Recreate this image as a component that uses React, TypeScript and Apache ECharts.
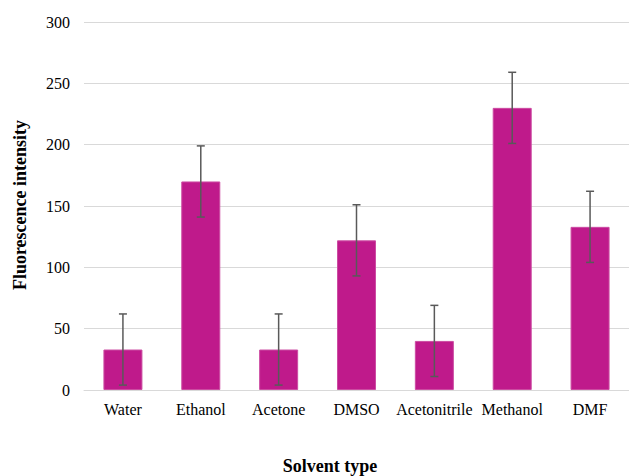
import React, { useEffect, useRef } from "react";
import * as echarts from "echarts";

const categories = ["Water", "Ethanol", "Acetone", "DMSO", "Acetonitrile", "Methanol", "DMF"];
const values = [33, 170, 33, 122, 40, 230, 133];
const errors = [29, 29, 29, 29, 29, 29, 29];
const yTicks = [0, 50, 100, 150, 200, 250, 300];

const FONT = "Liberation Serif";

export default function App() {
  const ref = useRef<HTMLDivElement>(null);
  useEffect(() => {
    if (!ref.current) return;
    const chart = echarts.init(ref.current, undefined, { renderer: "svg" });
    const errData = values.map((v, i) => [i, v - errors[i], v + errors[i]]);
    chart.setOption({
      animation: false,
      backgroundColor: "#ffffff",
      grid: { left: 84, top: 22, width: 558, height: 368, containLabel: false },
      xAxis: {
        type: "category",
        data: categories,
        axisLine: { show: true, lineStyle: { color: "#D9D9D9", width: 1 } },
        axisTick: { show: false },
        axisLabel: { color: "#000", fontFamily: FONT, fontSize: 16, margin: 11, interval: 0, hideOverlap: false },
      },
      yAxis: {
        type: "value",
        min: yTicks[0],
        max: yTicks[yTicks.length - 1],
        interval: 50,
        axisLine: { show: false },
        axisTick: { show: false },
        axisLabel: { color: "#000", fontFamily: FONT, fontSize: 16, margin: 14 },
        splitLine: { lineStyle: { color: "#D9D9D9", width: 1 } },
      },
      graphic: [
        {
          type: "text",
          x: 330,
          y: 466,
          style: {
            text: "Solvent type",
            fontFamily: FONT,
            fontWeight: "bold",
            fontSize: 18,
            fill: "#000",
            align: "center",
            verticalAlign: "middle",
          },
        },
        {
          type: "text",
          x: 20,
          y: 205,
          rotation: Math.PI / 2,
          style: {
            text: "Fluorescence intensity",
            fontFamily: FONT,
            fontWeight: "bold",
            fontSize: 18,
            fill: "#000",
            align: "center",
            verticalAlign: "middle",
          },
        },
      ],
      series: [
        {
          type: "bar",
          data: values,
          barWidth: 39,
          itemStyle: { color: "#BF1A8B", borderColor: "#CC4CA2", borderWidth: 1 },
        },
        {
          type: "custom",
          data: errData,
          z: 10,
          renderItem: (params: any, api: any) => {
            const x = api.coord([api.value(0), 0])[0];
            const lo = api.coord([api.value(0), api.value(1)])[1];
            const hi = api.coord([api.value(0), api.value(2)])[1];
            const w = 4;
            const style = { stroke: "#595959", lineWidth: 1.5 };
            return {
              type: "group",
              children: [
                { type: "line", shape: { x1: x, y1: lo, x2: x, y2: hi }, style },
                { type: "line", shape: { x1: x - w, y1: hi, x2: x + w, y2: hi }, style },
                { type: "line", shape: { x1: x - w, y1: lo, x2: x + w, y2: lo }, style },
              ],
            };
          },
        },
      ],
    });
    return () => chart.dispose();
  }, []);
  return <div ref={ref} style={{ width: 629, height: 476, position: "absolute", left: 0, top: 0 }} />;
}
